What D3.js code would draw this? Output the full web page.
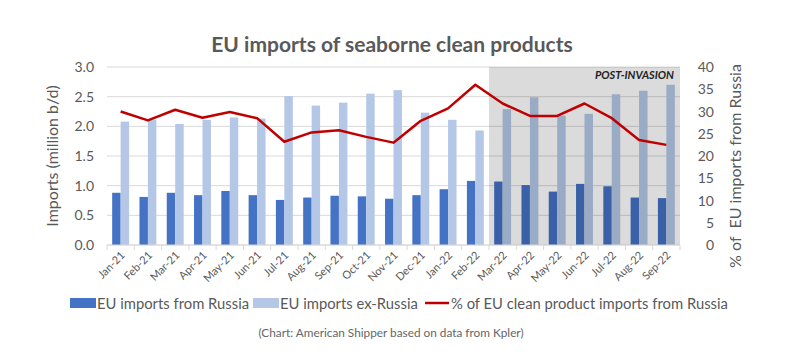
<!DOCTYPE html>
<html lang="en">
<head>
<meta charset="UTF-8">
<script src="https://d3js.org/d3.v7.min.js"></script>
<style>
  body { margin: 0; background: #fff; }
  svg { font-family: Lato, "Open Sans", sans-serif; }
  .tick-label { fill: #595959; font-size: 14px; }
  .axis-title { fill: #595959; font-size: 16px; }
</style>
</head>
<body>
<div id="chart"></div>
<script>
// Data
const months = ["Jan-21","Feb-21","Mar-21","Apr-21","May-21","Jun-21","Jul-21","Aug-21","Sep-21","Oct-21","Nov-21","Dec-21",
                "Jan-22","Feb-22","Mar-22","Apr-22","May-22","Jun-22","Jul-22","Aug-22","Sep-22"];
const fromRussia = [0.88,0.81,0.88,0.84,0.91,0.84,0.76,0.80,0.83,0.82,0.78,0.84,0.94,1.08,1.07,1.01,0.90,1.03,0.99,0.80,0.79];
const exRussia   = [2.08,2.11,2.04,2.11,2.15,2.13,2.51,2.35,2.40,2.55,2.61,2.23,2.11,1.93,2.29,2.49,2.18,2.21,2.54,2.60,2.70];
const shareRussia = [30.0,28.0,30.4,28.6,29.9,28.5,23.2,25.3,25.8,24.3,23.0,27.9,30.7,36.0,31.8,29.0,29.0,31.8,28.5,23.6,22.5];
const leftTicks = [0,0.5,1,1.5,2,2.5,3];
const rightTicks = [0,5,10,15,20,25,30,35,40];
const postStart = "Mar-22";

const width = 796, height = 352;
const margin = { left: 107, right: 116, top: 67, bottom: 107 };

const svg = d3.select("#chart").append("svg")
  .attr("width", width)
  .attr("height", height);

// Scales
const x = d3.scaleBand()
  .domain(months)
  .range([margin.left, width - margin.right])
  .paddingInner(0.38)
  .paddingOuter(0.19);

const xSub = d3.scaleBand()
  .domain(["russia", "ex"])
  .range([0, x.bandwidth()]);

const y = d3.scaleLinear()
  .domain([0, 3])
  .range([height - margin.bottom, margin.top]);

const y2 = d3.scaleLinear()
  .domain([0, 40])
  .range([height - margin.bottom, margin.top]);

// Title
svg.append("text")
  .attr("x", 392)
  .attr("y", 52)
  .attr("text-anchor", "middle")
  .attr("font-size", 21)
  .attr("font-weight", 700)
  .attr("fill", "#595959")
  .text("EU imports of seaborne clean products");

// Gridlines
svg.append("g")
  .selectAll("line")
  .data(leftTicks)
  .join("line")
  .attr("x1", margin.left)
  .attr("x2", width - margin.right)
  .attr("y1", d => y(d))
  .attr("y2", d => y(d))
  .attr("stroke", "#d9d9d9")
  .attr("stroke-width", 1);

// Bars
const groups = svg.append("g")
  .selectAll("g")
  .data(months)
  .join("g")
  .attr("transform", d => `translate(${x(d)},0)`);

groups.append("rect")
  .attr("x", xSub("russia"))
  .attr("width", xSub.bandwidth())
  .attr("y", (d, i) => y(fromRussia[i]))
  .attr("height", (d, i) => y(0) - y(fromRussia[i]))
  .attr("fill", "#4472c4");

groups.append("rect")
  .attr("x", xSub("ex"))
  .attr("width", xSub.bandwidth())
  .attr("y", (d, i) => y(exRussia[i]))
  .attr("height", (d, i) => y(0) - y(exRussia[i]))
  .attr("fill", "#b4c7e7");

// Post-invasion shading
const step = x.step();
const shadeX = x(postStart) - x.paddingInner() * step / 2;
svg.append("rect")
  .attr("x", shadeX)
  .attr("y", y(3))
  .attr("width", (width - margin.right) - shadeX)
  .attr("height", y(0) - y(3))
  .attr("fill", "#000")
  .attr("fill-opacity", 0.14);

svg.append("text")
  .attr("x", width - margin.right - 6)
  .attr("y", y(3) + 12)
  .attr("text-anchor", "end")
  .attr("font-size", 11)
  .attr("font-weight", 700)
  .attr("font-style", "italic")
  .attr("fill", "#222")
  .text("POST-INVASION");

// Share line
const line = d3.line()
  .x((d, i) => x(months[i]) + x.bandwidth() / 2)
  .y(d => y2(d));

svg.append("path")
  .datum(shareRussia)
  .attr("d", line)
  .attr("fill", "none")
  .attr("stroke", "#c00000")
  .attr("stroke-width", 2.5)
  .attr("stroke-linejoin", "round");

// X axis
svg.append("line")
  .attr("x1", margin.left)
  .attr("x2", width - margin.right)
  .attr("y1", y(0))
  .attr("y2", y(0))
  .attr("stroke", "#d9d9d9");

svg.append("g")
  .selectAll("line")
  .data(months.concat(["end"]))
  .join("line")
  .attr("x1", (d, i) => margin.left + i * (width - margin.left - margin.right) / months.length)
  .attr("x2", (d, i) => margin.left + i * (width - margin.left - margin.right) / months.length)
  .attr("y1", y(0))
  .attr("y2", y(0) + 5)
  .attr("stroke", "#d9d9d9");

svg.append("g")
  .selectAll("text")
  .data(months)
  .join("text")
  .attr("text-anchor", "end")
  .attr("font-size", 11)
  .attr("fill", "#595959")
  .attr("transform", d => `translate(${x(d) + x.bandwidth() / 2 + 5},${y(0) + 11}) rotate(-45)`)
  .text(d => d);

// Left axis
svg.append("g")
  .selectAll("text")
  .data(leftTicks)
  .join("text")
  .attr("class", "tick-label")
  .attr("x", 94)
  .attr("y", d => y(d) + 5)
  .attr("text-anchor", "end")
  .text(d3.format(".1f"));

svg.append("text")
  .attr("class", "axis-title")
  .attr("transform", `translate(58,${(y(0) + y(3)) / 2}) rotate(-90)`)
  .attr("text-anchor", "middle")
  .text("Imports (million b/d)");

// Right axis
svg.append("g")
  .selectAll("text")
  .data(rightTicks)
  .join("text")
  .attr("class", "tick-label")
  .attr("x", 714)
  .attr("y", d => y2(d) + 5)
  .attr("text-anchor", "end")
  .text(d => d);

svg.append("text")
  .attr("class", "axis-title")
  .attr("transform", `translate(741,${(y(0) + y(3)) / 2 + 10}) rotate(-90)`)
  .attr("text-anchor", "middle")
  .attr("xml:space", "preserve")
  .text("% of  EU imports from Russia");

// Legend
const legend = svg.append("g")
  .attr("transform", "translate(0,303)");

const legendItems = [
  { label: "EU imports from Russia", color: "#4472c4", type: "rect", x: 70, tx: 97 },
  { label: "EU imports ex-Russia", color: "#b4c7e7", type: "rect", x: 253, tx: 280 },
  { label: "% of EU clean product imports from Russia", color: "#c00000", type: "line", x: 425, tx: 451 }
];

legendItems.forEach(item => {
  if (item.type === "rect") {
    legend.append("rect")
      .attr("x", item.x)
      .attr("y", -5)
      .attr("width", 26)
      .attr("height", 10)
      .attr("fill", item.color);
  } else {
    legend.append("line")
      .attr("x1", item.x)
      .attr("x2", item.x + 24)
      .attr("stroke", item.color)
      .attr("stroke-width", 2.5);
  }
  legend.append("text")
    .attr("x", item.tx)
    .attr("y", 5.5)
    .attr("font-size", 14.8)
    .attr("fill", "#595959")
    .text(item.label);
});

// Caption
svg.append("text")
  .attr("x", 391)
  .attr("y", 337)
  .attr("text-anchor", "middle")
  .attr("font-size", 11.8)
  .attr("fill", "#666")
  .text("(Chart: American Shipper based on data from Kpler)");
</script>
</body>
</html>
